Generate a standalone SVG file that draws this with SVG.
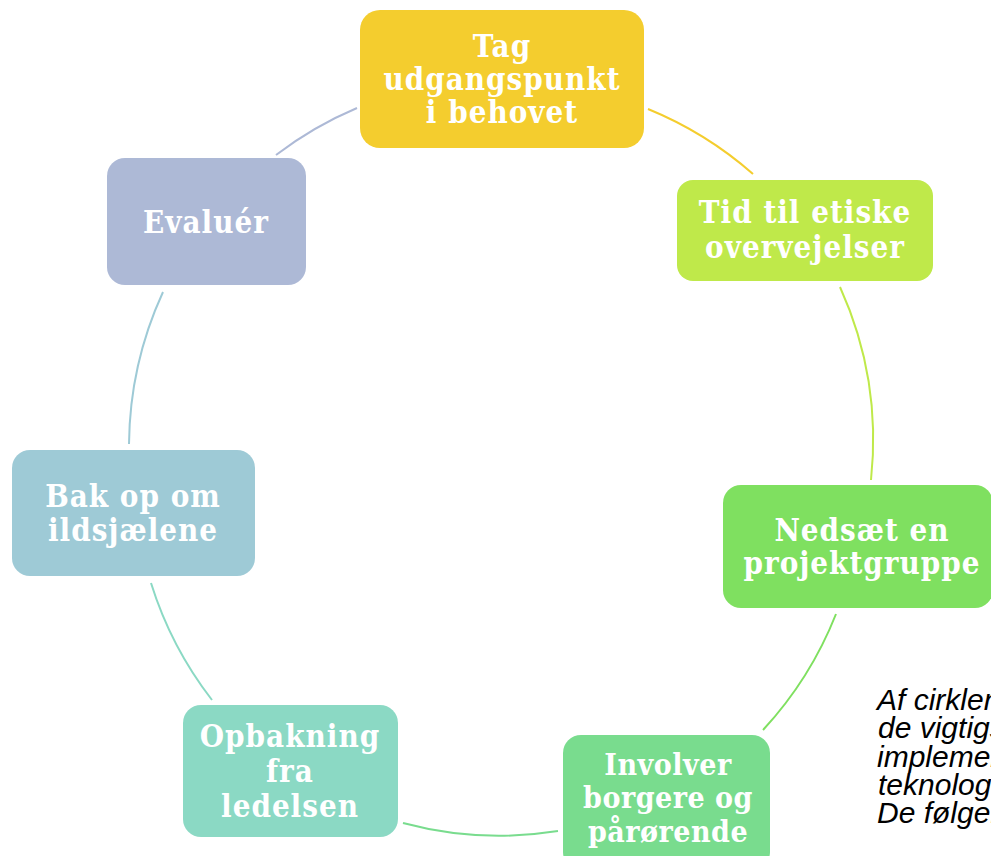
<svg xmlns="http://www.w3.org/2000/svg" width="991" height="856" viewBox="0 0 991 856">
<style>
.lbl{font-family:"DejaVu Serif Condensed","DejaVu Serif",serif;font-stretch:condensed;font-weight:bold;font-size:31px;letter-spacing:1px;fill:#ffffff;text-anchor:middle}
.arc{fill:none;stroke-width:2}
.note{font-family:"Liberation Sans",Arial,sans-serif;font-style:italic;font-size:30px;fill:#000000}
</style>
<rect width="991" height="856" fill="#ffffff"/>
<g id="connectors">
<path class="arc" stroke="#adb9d6" d="M276 155 A372 372 0 0 1 357 108"/>
<path class="arc" stroke="#f4cd2e" d="M648 109 A372 372 0 0 1 753 174"/>
<path class="arc" stroke="#bfe94a" d="M840 287 A372 372 0 0 1 871 480"/>
<path class="arc" stroke="#7fe060" d="M836 614 A372 372 0 0 1 763 730"/>
<path class="arc" stroke="#79dc8e" d="M558 831 A372 372 0 0 1 403 823"/>
<path class="arc" stroke="#8bd9c4" d="M212 700 A372 372 0 0 1 151 583"/>
<path class="arc" stroke="#9ecad6" d="M129 444 A372 372 0 0 1 163 292"/>
</g>
<g id="n1">
<rect x="360" y="10" width="284" height="138" rx="20" fill="#f4cd2e"/>
<text class="lbl" x="502" y="57">Tag</text>
<text class="lbl" x="502" y="90">udgangspunkt</text>
<text class="lbl" x="502" y="123">i behovet</text>
</g>
<g id="n2">
<rect x="677" y="180" width="256" height="101" rx="16" fill="#bfe94a"/>
<text class="lbl" x="805" y="223">Tid til etiske</text>
<text class="lbl" x="805" y="258">overvejelser</text>
</g>
<g id="n3">
<rect x="723" y="485" width="270" height="123" rx="18" fill="#7fe060"/>
<text class="lbl" x="862" y="541">Nedsæt en</text>
<text class="lbl" x="862" y="574">projektgruppe</text>
</g>
<g id="n4">
<rect x="563" y="735" width="207" height="135" rx="18" fill="#79dc8e"/>
<text class="lbl" style="font-size:30px;letter-spacing:0.5px" x="668" y="775">Involver</text>
<text class="lbl" style="font-size:30px;letter-spacing:0.5px" x="668" y="808">borgere og</text>
<text class="lbl" style="font-size:30px;letter-spacing:0.5px" x="668" y="842">pårørende</text>
</g>
<g id="n5">
<rect x="183" y="705" width="215" height="132" rx="18" fill="#8bd9c4"/>
<text class="lbl" x="290" y="747">Opbakning</text>
<text class="lbl" x="290" y="782">fra</text>
<text class="lbl" x="290" y="817">ledelsen</text>
</g>
<g id="n6">
<rect x="12" y="450" width="243" height="126" rx="18" fill="#9ecad6"/>
<text class="lbl" x="133" y="507">Bak op om</text>
<text class="lbl" x="133" y="541">ildsjælene</text>
</g>
<g id="n7">
<rect x="107" y="158" width="199" height="127" rx="18" fill="#adb9d6"/>
<text class="lbl" x="206" y="233">Evaluér</text>
</g>
<g id="note">
<text class="note" x="877" y="710">Af cirklen</text>
<text class="note" x="878" y="738">de vigtigste</text>
<text class="note" x="877" y="767">implementering</text>
<text class="note" x="878" y="795">teknologi</text>
<text class="note" x="877" y="823">De følgende</text>
</g>
</svg>
